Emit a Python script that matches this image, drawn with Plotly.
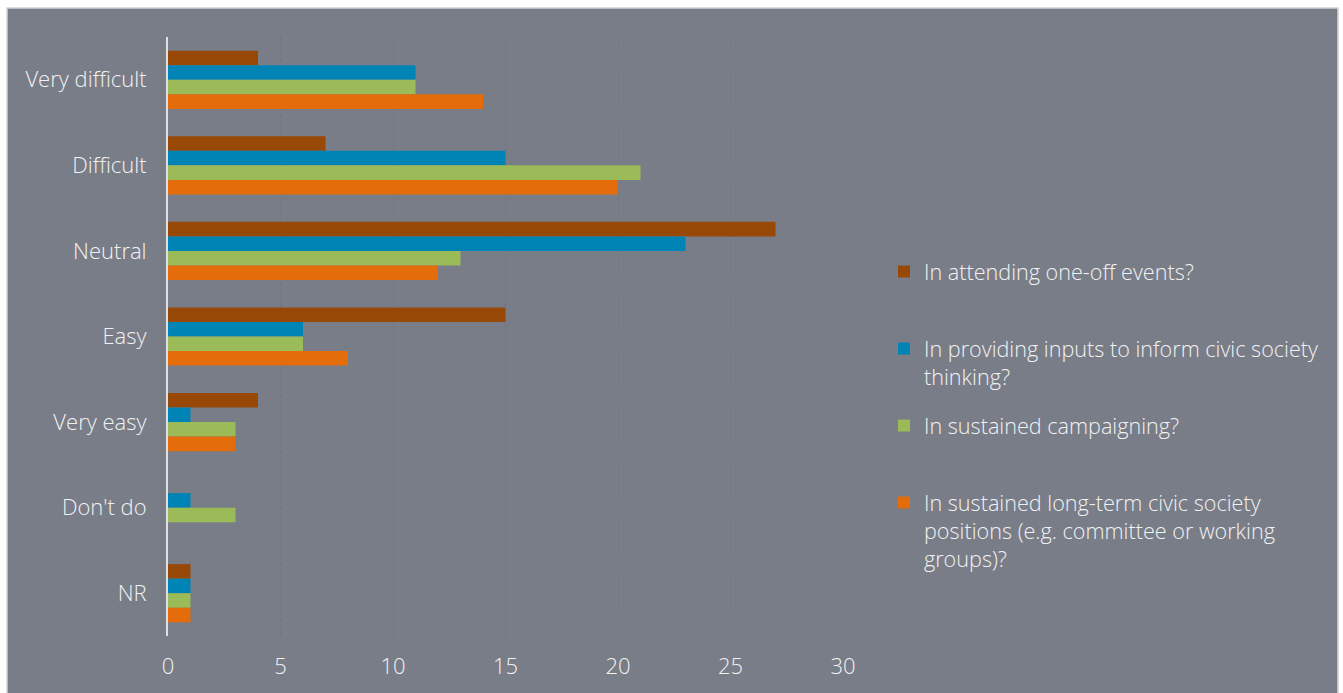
import plotly.graph_objects as go

# Survey responses: how easy is it to take part in each activity?
categories = ["Very difficult", "Difficult", "Neutral", "Easy", "Very easy", "Don't do", "NR"]

attending_events = [4, 7, 27, 15, 4, 0, 1]
providing_inputs = [11, 15, 23, 6, 1, 1, 1]
sustained_campaigning = [11, 21, 13, 6, 3, 3, 1]
long_term_positions = [14, 20, 12, 8, 3, 0, 1]

series_names = [
    "In attending one-off events?",
    "In providing inputs to inform civic society<br>thinking?",
    "In sustained campaigning?",
    "In sustained long-term civic society<br>positions (e.g. committee or working<br>groups)?",
]
series_values = [attending_events, providing_inputs, sustained_campaigning, long_term_positions]
series_colors = ["#984807", "#0084b6", "#9bbb59", "#e46c0a"]

x_ticks = [0, 5, 10, 15, 20, 25, 30]

W, H = 1343, 693
L, R, T, B = 168, 500, 37, 57
plot_w = W - L - R
plot_h = H - T - B

BG = "#797d88"
TEXT = "#f2f2f2"
FONT = "Open Sans"
FSIZE = 22
FWEIGHT = 300


def px_to_paper_x(px):
    return (px - L) / plot_w


def px_to_paper_y(py):
    return (H - B - py) / plot_h


legend_ids = ["legend", "legend2", "legend3", "legend4"]
legend_tops = [251, 328, 405, 482]

fig = go.Figure()
for name, vals, color, lid in zip(series_names, series_values, series_colors, legend_ids):
    fig.add_trace(
        go.Bar(
            y=categories,
            x=vals,
            name=name,
            orientation="h",
            marker=dict(color=color, line=dict(width=0)),
            legend=lid,
            hoverinfo="x+y",
        )
    )

text_font = dict(family=FONT, size=FSIZE, color=TEXT, weight=FWEIGHT)
legend_font = dict(text_font, size=21.6)

legend_common = dict(
    xanchor="left",
    yanchor="top",
    valign="top",
    bgcolor="rgba(0,0,0,0)",
    borderwidth=0,
    font=legend_font,
    tracegroupgap=0,
)

layout_legends = {}
for lid, top in zip(legend_ids, legend_tops):
    layout_legends[lid] = dict(legend_common, x=px_to_paper_x(884), y=px_to_paper_y(top))

fig.update_layout(
    width=W,
    height=H,
    margin=dict(l=L, r=R, t=T, b=B, pad=0),
    paper_bgcolor="white",
    plot_bgcolor="rgba(0,0,0,0)",
    barmode="group",
    bargap=0.32,
    bargroupgap=0,
    showlegend=True,
    font=text_font,
    xaxis=dict(
        range=[0, 30],
        tickvals=x_ticks,
        ticktext=[str(v) for v in x_ticks],
        ticks="outside",
        ticklen=11,
        tickcolor="rgba(0,0,0,0)",
        showgrid=True,
        gridcolor="#71757f",
        griddash="4px,3px",
        gridwidth=1,
        zeroline=False,
        showline=False,
        tickfont=text_font,
        fixedrange=True,
    ),
    yaxis=dict(
        categoryorder="array",
        categoryarray=categories,
        autorange="reversed",
        showgrid=False,
        zeroline=False,
        showline=True,
        linecolor="#e0e0e0",
        linewidth=2,
        ticks="",
        ticklabelstandoff=15,
        tickfont=text_font,
        fixedrange=True,
    ),
    shapes=[
        dict(
            type="rect",
            xref="paper",
            yref="paper",
            x0=px_to_paper_x(7),
            x1=px_to_paper_x(1338),
            y0=px_to_paper_y(8),
            y1=px_to_paper_y(710),
            fillcolor=BG,
            line=dict(color="#d4d4d4", width=1.5),
            layer="below",
        )
    ],
    **layout_legends,
)

fig.write_html("out.html", config={"displayModeBar": False})
